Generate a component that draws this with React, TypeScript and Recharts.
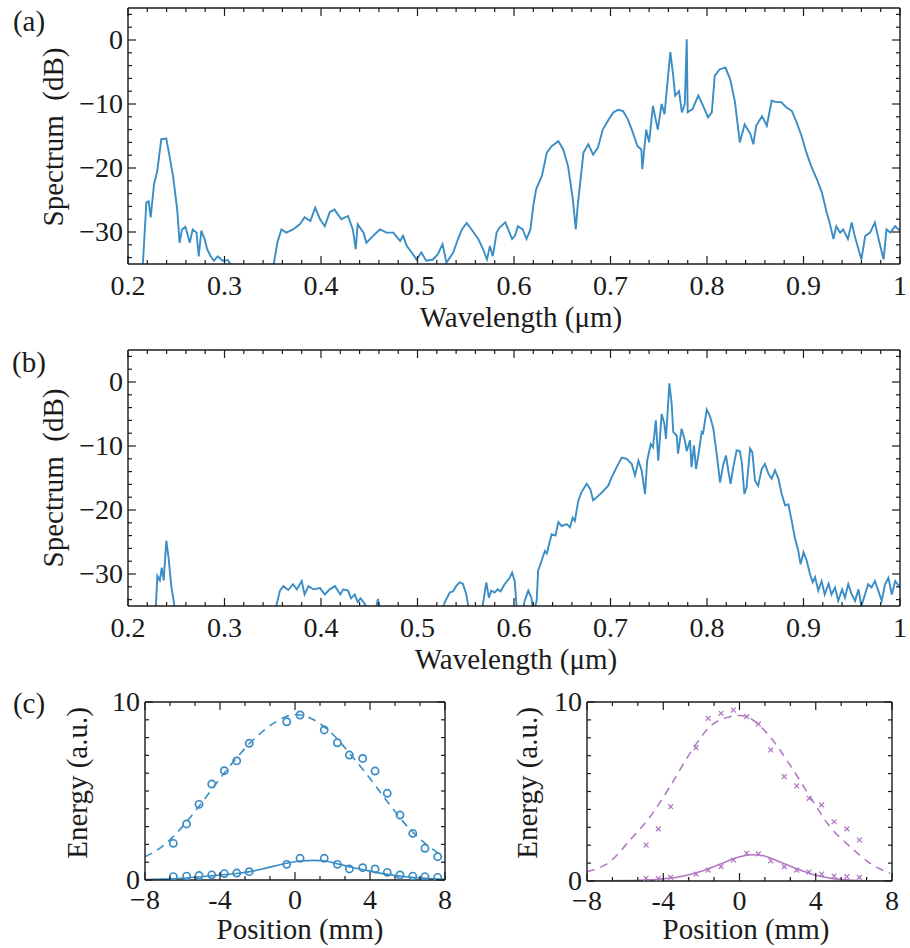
import { ComposedChart, Line, LineChart, Scatter, XAxis, YAxis } from "recharts";

const FONT = "Liberation Serif";
const INK = "#1b1b1b";
const BLUE = "#3a8dc5";
const PURPLE = "#b27ac4";

// (a) spectrum, wavelength in µm and level in dB (values below -35 are clipped)
const waveA = [
  0.213, 0.2155, 0.219, 0.2214, 0.2235, 0.227, 0.2303, 0.2345, 0.2397, 0.243, 0.2466, 0.251, 0.2535,
  0.256, 0.2594, 0.262, 0.264, 0.267, 0.271, 0.2733, 0.276, 0.2794, 0.282, 0.2857, 0.289, 0.293, 0.298,
  0.3036, 0.308, 0.312, 0.348, 0.351, 0.355, 0.359, 0.364, 0.371, 0.378, 0.383, 0.389, 0.394, 0.399,
  0.404, 0.409, 0.414, 0.421, 0.428, 0.433, 0.436, 0.438, 0.444, 0.447, 0.454, 0.461, 0.468, 0.475,
  0.482, 0.485, 0.489, 0.494, 0.499, 0.504, 0.509, 0.516, 0.521, 0.526, 0.53, 0.537, 0.542, 0.546,
  0.551, 0.556, 0.563, 0.568, 0.572, 0.575, 0.578, 0.582, 0.585, 0.591, 0.594, 0.598, 0.601, 0.604,
  0.609, 0.613, 0.617, 0.62, 0.623, 0.629, 0.634, 0.639, 0.646, 0.651, 0.656, 0.661, 0.664, 0.666,
  0.672, 0.677, 0.682, 0.687, 0.692, 0.697, 0.703, 0.708, 0.713, 0.718, 0.723, 0.728, 0.732, 0.733,
  0.737, 0.74, 0.744, 0.749, 0.753, 0.756, 0.762, 0.765, 0.767, 0.771, 0.774, 0.777, 0.779, 0.78,
  0.785, 0.791, 0.796, 0.801, 0.805, 0.808, 0.813, 0.819, 0.824, 0.829, 0.834, 0.839, 0.845, 0.848,
  0.851, 0.857, 0.862, 0.867, 0.872, 0.877, 0.882, 0.888, 0.893, 0.898, 0.903, 0.908, 0.914, 0.919,
  0.924, 0.927, 0.931, 0.934, 0.938, 0.941, 0.946, 0.95, 0.953, 0.957, 0.96, 0.964, 0.969, 0.974,
  0.977, 0.983, 0.986, 0.99, 0.995, 1.0,
];
const specA = [
  -40, -34.8, -25.4, -25.2, -27.7, -22.5, -20.5, -15.5, -15.4, -18.1, -21.2, -26.5, -31.7,
  -29.6, -29.2, -30.5, -31.7, -29.6, -30.1, -33.8, -29.8, -31.1, -32.7, -33.8, -34.5, -33.8, -34.5,
  -34.4, -35.5, -40, -40, -35, -31.5, -29.6, -30.1, -29.6, -28.8, -27.7, -28.3, -26.2, -28.0,
  -29.1, -26.9, -26.5, -28.0, -27.5, -29.6, -32.7, -28.8, -30.1, -31.7, -30.6, -29.6, -30.1, -30.1,
  -31.4, -30.6, -32.2, -33.2, -34.3, -33.2, -34.5, -34.3, -33.5, -31.9, -34.8, -33.2, -31.1, -29.6,
  -28.6, -29.6, -31.1, -32.7, -34.3, -32.2, -33.8, -30.1, -29.3, -28.5, -29.6, -31.1, -30.6, -29.1,
  -29.6, -31.1, -29.6, -25.9, -23.3, -21.2, -17.6, -16.6, -15.8, -17.1, -19.7, -24.9, -29.6, -25.9,
  -17.6, -16.3, -17.9, -16.8, -14.0, -12.7, -11.3, -10.9, -11.1, -12.4, -14.4, -16.6, -17.1, -20.2,
  -14.0, -16.0, -10.3, -14.0, -10.0, -11.6, -1.9, -5.6, -8.7, -8.0, -11.3, -10.0, 0.1, -11.3,
  -10.8, -8.7, -10.3, -12.1, -11.3, -5.6, -4.6, -4.3, -6.1, -9.7, -16.0, -13.2, -14.7, -16.3,
  -13.4, -11.9, -13.4, -9.5, -9.7, -9.7, -10.5, -11.1, -12.9, -15.0, -17.6, -19.7, -21.8, -23.8,
  -26.9, -28.5, -31.1, -29.1, -30.1, -29.6, -31.1, -28.5, -30.6, -32.7, -34.3, -30.6, -30.1, -28.5,
  -30.6, -34.3, -29.6, -30.1, -29.1, -29.8,
];

// (b) spectrum
const waveB = [
  0.227, 0.229, 0.2304, 0.233, 0.235, 0.237, 0.2397, 0.242, 0.245, 0.2477, 0.25, 0.35, 0.3534,
  0.3575, 0.361, 0.366, 0.371, 0.375, 0.38, 0.383, 0.387, 0.392, 0.399, 0.404, 0.409, 0.4145, 0.42,
  0.423, 0.428, 0.431, 0.435, 0.438, 0.441, 0.4456, 0.448, 0.456, 0.459, 0.461, 0.462, 0.522, 0.526,
  0.528, 0.5334, 0.537, 0.54, 0.5437, 0.547, 0.5506, 0.5523, 0.555, 0.565, 0.568, 0.5713, 0.574,
  0.5765, 0.58, 0.583, 0.586, 0.5903, 0.5955, 0.598, 0.6007, 0.6024, 0.604, 0.608, 0.611, 0.6148,
  0.618, 0.62, 0.6235, 0.625, 0.6287, 0.632, 0.634, 0.6373, 0.639, 0.643, 0.646, 0.6494, 0.6546,
  0.658, 0.6608, 0.663, 0.6667, 0.67, 0.6753, 0.679, 0.682, 0.6874, 0.6926, 0.6977, 0.7012, 0.7064,
  0.7116, 0.7168, 0.722, 0.7254, 0.729, 0.7322, 0.7358, 0.738, 0.7417, 0.744, 0.747, 0.7495, 0.753,
  0.7558, 0.7575, 0.761, 0.7634, 0.765, 0.7686, 0.77, 0.7737, 0.777, 0.779, 0.7824, 0.784, 0.7865,
  0.7886, 0.791, 0.7945, 0.796, 0.7997, 0.803, 0.8066, 0.81, 0.8135, 0.817, 0.8197, 0.822, 0.8245,
  0.827, 0.8307, 0.834, 0.836, 0.8387, 0.841, 0.8446, 0.847, 0.8497, 0.853, 0.8567, 0.86, 0.8638,
  0.867, 0.8705, 0.874, 0.8774, 0.881, 0.8843, 0.8878, 0.891, 0.8946, 0.897, 0.9, 0.9033, 0.9067,
  0.9095, 0.912, 0.9153, 0.9188, 0.922, 0.926, 0.929, 0.9327, 0.936, 0.94, 0.943, 0.9464, 0.95,
  0.9534, 0.957, 0.96, 0.9637, 0.967, 0.9705, 0.974, 0.9775, 0.981, 0.9845, 0.988, 0.9915, 0.995, 1.0,
];
const specB = [
  -40, -34.7, -30.3, -31.0, -29.0, -31.0, -24.8, -27.4, -32.1, -34.5, -40, -40, -35.1,
  -32.6, -31.9, -32.5, -31.6, -32.4, -31.1, -33.2, -31.9, -32.4, -32.2, -33.2, -32.4, -31.9, -33.2,
  -32.4, -32.6, -33.8, -33.2, -34.4, -33.8, -34.7, -36, -36, -33.9, -36, -40, -40, -35.5,
  -34.5, -32.9, -32.7, -31.9, -31.3, -31.5, -33.2, -34.7, -37, -37, -34.5, -31.3, -33.7,
  -32.6, -32.9, -32.4, -32.7, -31.6, -30.6, -29.8, -31.1, -34.5, -37, -37, -34.2, -32.6,
  -33.7, -36, -34.2, -29.5, -27.9, -26.4, -26.8, -24.8, -23.8, -24.0, -21.9, -22.5, -22.2,
  -22.7, -21.2, -21.7, -18.5, -17.2, -15.9, -16.7, -18.5, -17.8, -17.0, -16.2, -14.9, -13.3,
  -11.8, -12.0, -12.8, -14.6, -12.3, -13.8, -17.5, -12.3, -9.7, -10.2, -6.0, -12.3, -5.0,
  -6.5, -8.9, -0.2, -3.4, -7.8, -8.4, -11.2, -7.3, -9.1, -10.8, -9.1, -13.3, -9.9,
  -13.6, -11.5, -7.8, -8.0, -4.3, -5.3, -7.3, -11.2, -15.7, -12.8, -11.5, -13.8, -15.9,
  -13.5, -10.7, -10.8, -12.5, -17.5, -16.5, -10.4, -11.0, -15.4, -16.2, -13.6, -12.8, -14.4,
  -15.1, -13.8, -15.1, -17.5, -19.3, -19.1, -21.7, -24.3, -26.4, -28.5, -26.6, -27.9, -30.0,
  -31.3, -30.5, -32.6, -31.1, -33.2, -31.5, -33.2, -32.1, -34.2, -32.4, -33.7, -31.6, -33.2,
  -34.2, -32.4, -35.0, -33.2, -31.6, -32.1, -31.1, -32.6, -34.2, -31.6, -30.6, -33.2, -31.1, -32.1,
];

// (c) left: measured energy (circles) and fits
const posCircle = [
  -6.49, -5.78, -5.12, -4.44, -3.77, -3.11, -2.44, -0.44, 0.27, 1.56, 2.26, 2.9, 3.61, 4.27, 4.92,
  5.6, 6.28, 6.93, 7.61,
];
const circleHigh = [
  2.06, 3.15, 4.25, 5.39, 6.14, 6.69, 7.68, 8.89, 9.27, 8.43, 7.71, 7.02, 6.83, 6.12, 4.87, 3.65,
  2.62, 1.78, 1.31,
];
const circleLow = [
  0.19, 0.22, 0.25, 0.29, 0.36, 0.39, 0.47, 0.88, 1.22, 1.22, 0.88, 0.62, 0.69, 0.62, 0.43, 0.28,
  0.22, 0.19, 0.15,
];
const fitPosHighL = [-8, -7, -6, -5, -4, -3, -2, -1, 0, 1, 2, 3, 4, 5, 6, 7, 7.8];
const fitHighL = [1.3, 1.95, 3.0, 4.3, 5.7, 7.0, 8.1, 8.9, 9.3, 9.0, 8.2, 7.0, 5.7, 4.3, 3.0, 2.0, 1.4];
const fitPosLowL = [-8, -7, -6, -5, -4, -3, -2.4, -1.5, -0.5, 0.3, 1.0, 1.6, 2.3, 3, 4, 5, 6, 7, 8];
const fitLowL = [0.02, 0.05, 0.1, 0.18, 0.28, 0.38, 0.47, 0.68, 0.93, 1.07, 1.1, 1.07, 0.9, 0.72, 0.5, 0.3, 0.17, 0.09, 0.04];

// (c) right: measured energy (crosses) and fits
const posCross = [
  -4.9, -4.26, -3.61, -2.28, -1.64, -0.97, -0.32, 0.38, 0.99, 1.64, 2.35, 3.0, 3.65, 4.31, 4.96,
  5.63, 6.29,
];
const crossHigh = [
  2.01, 2.91, 4.15, 7.45, 9.09, 9.37, 9.55, 9.18, 8.77, 7.32, 5.83, 5.31, 4.62, 4.25, 3.31, 2.91, 2.29,
];
const crossLow = [
  0.15, 0.15, 0.2, 0.39, 0.61, 0.8, 1.17, 1.55, 1.51, 1.13, 0.8, 0.61, 0.5, 0.39, 0.28, 0.24, 0.2,
];
const fitPosHighR = [-8, -6.8, -5.74, -4.69, -3.65, -2.6, -1.55, -0.5, 0, 0.55, 1.6, 2.65, 3.7, 4.75, 5.8, 6.85, 7.9];
const fitHighR = [0.52, 1.08, 2.29, 3.59, 5.27, 7.13, 8.62, 9.18, 9.25, 9.09, 8.06, 6.48, 4.71, 3.03, 1.92, 0.99, 0.43];
const fitPosLowR = [-8, -6, -5, -4, -3, -2, -1, 0, 0.6, 1.2, 2, 3, 4, 5, 6, 7, 8];
const fitLowR = [0.0, 0.02, 0.05, 0.12, 0.27, 0.55, 0.95, 1.35, 1.47, 1.42, 1.12, 0.68, 0.32, 0.12, 0.04, 0.01, 0.0];

// tick values
const steps = (from: number, to: number, n: number) =>
  Array.from({ length: n + 1 }, (_, i) => from + ((to - from) * i) / n);
const waveTicks = steps(0.2, 1.0, 40);
const waveMajors = [0.2, 0.3, 0.4, 0.5, 0.6, 0.7, 0.8, 0.9, 1.0];
const waveLabels = ["0.2", "0.3", "0.4", "0.5", "0.6", "0.7", "0.8", "0.9", "1"];
const dbTicks = steps(-34, 4, 19);
const dbMajors = [-30, -20, -10, 0];
const dbLabels = ["\u221230", "\u221220", "\u221210", "0"];
const posTicks = steps(-8, 8, 12);
const posMajors = [-8, -4, 0, 4, 8];
const posLabels = ["\u22128", "-4", "0", "4", "8"];
const energyTicks = steps(0, 10, 10);
const energyMajors = [0, 10];
const energyLabels = ["0", "10"];

const zipSpec = (w: number[], s: number[]) => w.map((x, i) => ({ w: x, s: s[i] }));
const zipPos = (p: number[], e: number[]) => p.map((x, i) => ({ p: x, e: e[i] }));

type Side = "bottom" | "top" | "left" | "right";

const tickStyle = { fontFamily: FONT, fontSize: 28, fill: INK };

const makeTick =
  (side: Side, majors: number[], labels: string[] | null, gap = 31) =>
  (props: any) => {
    const { x, y, payload } = props;
    const v = Number(payload.value);
    const idx = majors.findIndex((m) => Math.abs(m - v) < 1e-6);
    const len = idx >= 0 ? 8 : 4;
    let line = null;
    let label = null;
    const txt = labels && idx >= 0 ? labels[idx] : null;
    if (side === "bottom") {
      line = <line x1={x} y1={y} x2={x} y2={y - len} />;
      if (txt)
        label = (
          <text x={x} y={y + gap} textAnchor="middle" fontFamily={FONT} style={tickStyle}>
            {txt}
          </text>
        );
    } else if (side === "top") {
      line = <line x1={x} y1={y} x2={x} y2={y + len} />;
    } else if (side === "left") {
      line = <line x1={x} y1={y} x2={x + len} y2={y} />;
      if (txt)
        label = (
          <text x={x - 5} y={y + 9} textAnchor="end" fontFamily={FONT} style={tickStyle}>
            {txt}
          </text>
        );
    } else {
      line = <line x1={x} y1={y} x2={x - len} y2={y} />;
    }
    return (
      <g>
        <g stroke={INK} strokeWidth={1.2}>{line}</g>
        {label}
      </g>
    );
  };

const frame = { stroke: INK, strokeWidth: 1.4 };

type SpecProps = { wave: number[]; spec: number[]; top: number; mTop: number; mBottom: number };

const SpectrumPanel = ({ wave, spec, top, mTop, mBottom }: SpecProps) => (
  <div style={{ position: "absolute", left: 0, top, width: 910, height: 320 }}>
    <LineChart
      width={910}
      height={320}
      data={zipSpec(wave, spec)}
      margin={{ top: mTop, right: 9, bottom: mBottom, left: 127 }}
    >
      <XAxis
        xAxisId="b"
        dataKey="w"
        type="number"
        domain={[0.2, 1]}
        allowDataOverflow
        ticks={waveTicks}
        interval={0}
        height={1}
        tickSize={0}
        tickMargin={0}
        tickLine={false}
        axisLine={frame}
        tick={makeTick("bottom", waveMajors, waveLabels)}
      />
      <XAxis
        xAxisId="t"
        orientation="top"
        dataKey="w"
        type="number"
        domain={[0.2, 1]}
        allowDataOverflow
        ticks={waveTicks}
        interval={0}
        height={1}
        tickSize={0}
        tickMargin={0}
        tickLine={false}
        axisLine={frame}
        tick={makeTick("top", waveMajors, null)}
      />
      <YAxis
        yAxisId="l"
        type="number"
        domain={[-35, 5]}
        allowDataOverflow
        ticks={dbTicks}
        interval={0}
        width={1}
        tickSize={0}
        tickMargin={0}
        tickLine={false}
        axisLine={frame}
        tick={makeTick("left", dbMajors, dbLabels)}
      />
      <YAxis
        yAxisId="r"
        orientation="right"
        type="number"
        domain={[-35, 5]}
        allowDataOverflow
        ticks={dbTicks}
        interval={0}
        width={1}
        tickSize={0}
        tickMargin={0}
        tickLine={false}
        axisLine={frame}
        tick={makeTick("right", dbMajors, null)}
      />
      <Line
        xAxisId="b"
        yAxisId="l"
        type="linear"
        dataKey="s"
        stroke={BLUE}
        strokeWidth={1.9}
        dot={false}
        activeDot={false}
        isAnimationActive={false}
      />
    </LineChart>
  </div>
);

const circleShape = (p: any) => (
  <circle cx={p.cx} cy={p.cy} r={3.6} fill="none" stroke={BLUE} strokeWidth={1.7} />
);
const crossShape = (p: any) => (
  <path
    d={`M${p.cx - 2.4},${p.cy - 2.4}L${p.cx + 2.4},${p.cy + 2.4}M${p.cx - 2.4},${p.cy + 2.4}L${p.cx + 2.4},${p.cy - 2.4}`}
    stroke={PURPLE}
    strokeWidth={1.3}
  />
);

type EnergyProps = {
  left: number;
  margin: { top: number; right: number; bottom: number; left: number };
  color: string;
  high: { p: number; e: number }[];
  low: { p: number; e: number }[];
  fitHigh: { p: number; e: number }[];
  fitLow: { p: number; e: number }[];
  shape: (p: any) => JSX.Element;
};

const EnergyPanel = ({ left, margin, color, high, low, fitHigh, fitLow, shape }: EnergyProps) => (
  <div style={{ position: "absolute", left, top: 660, width: 455, height: 260 }}>
    <ComposedChart width={455} height={260} margin={margin}>
      <XAxis
        xAxisId="b"
        dataKey="p"
        type="number"
        domain={[-8, 8]}
        allowDataOverflow
        ticks={posTicks}
        interval={0}
        height={1}
        tickSize={0}
        tickMargin={0}
        tickLine={false}
        axisLine={frame}
        tick={makeTick("bottom", posMajors, posLabels, 29)}
      />
      <XAxis
        xAxisId="t"
        orientation="top"
        dataKey="p"
        type="number"
        domain={[-8, 8]}
        allowDataOverflow
        ticks={posTicks}
        interval={0}
        height={1}
        tickSize={0}
        tickMargin={0}
        tickLine={false}
        axisLine={frame}
        tick={makeTick("top", posMajors, null)}
      />
      <YAxis
        yAxisId="l"
        type="number"
        domain={[0, 10]}
        allowDataOverflow
        ticks={energyTicks}
        interval={0}
        width={1}
        tickSize={0}
        tickMargin={0}
        tickLine={false}
        axisLine={frame}
        tick={makeTick("left", energyMajors, energyLabels)}
      />
      <YAxis
        yAxisId="r"
        orientation="right"
        type="number"
        domain={[0, 10]}
        allowDataOverflow
        ticks={energyTicks}
        interval={0}
        width={1}
        tickSize={0}
        tickMargin={0}
        tickLine={false}
        axisLine={frame}
        tick={makeTick("right", energyMajors, null)}
      />
      <Line
        xAxisId="b"
        yAxisId="l"
        data={fitHigh}
        type="monotone"
        dataKey="e"
        stroke={color}
        strokeWidth={1.6}
        strokeDasharray="8 6"
        dot={false}
        activeDot={false}
        isAnimationActive={false}
      />
      <Line
        xAxisId="b"
        yAxisId="l"
        data={fitLow}
        type="monotone"
        dataKey="e"
        stroke={color}
        strokeWidth={1.6}
        dot={false}
        activeDot={false}
        isAnimationActive={false}
      />
      <Scatter xAxisId="b" yAxisId="l" data={high} dataKey="e" shape={shape} isAnimationActive={false} />
      <Scatter xAxisId="b" yAxisId="l" data={low} dataKey="e" shape={shape} isAnimationActive={false} />
    </ComposedChart>
  </div>
);

// HTML caption: (cx, cy) is the centre of the text box
const Caption = ({ cx, cy, rotate = false, children }: { cx: number; cy: number; rotate?: boolean; children: string }) => (
  <div
    style={{
      position: "absolute",
      left: cx,
      top: cy,
      transform: `translate(-50%, -50%)${rotate ? " rotate(-90deg)" : ""}`,
      fontFamily: FONT,
      fontSize: 29,
      lineHeight: "29px",
      color: INK,
      whiteSpace: "pre",
    }}
  >
    {children}
  </div>
);

export default function App() {
  return (
    <div style={{ position: "absolute", left: 0, top: 0, width: 910, height: 948, background: "#fff", fontFamily: FONT }}>
      <SpectrumPanel wave={waveA} spec={specA} top={0} mTop={7} mBottom={55} />
      <SpectrumPanel wave={waveB} spec={specB} top={330} mTop={19} mBottom={43} />
      <EnergyPanel
        left={0}
        margin={{ top: 41, right: 9, bottom: 39, left: 144 }}
        color={BLUE}
        high={zipPos(posCircle, circleHigh)}
        low={zipPos(posCircle, circleLow)}
        fitHigh={zipPos(fitPosHighL, fitHighL)}
        fitLow={zipPos(fitPosLowL, fitLowL)}
        shape={circleShape}
      />
      <EnergyPanel
        left={455}
        margin={{ top: 41, right: 17, bottom: 38, left: 131 }}
        color={PURPLE}
        high={zipPos(posCross, crossHigh)}
        low={zipPos(posCross, crossLow)}
        fitHigh={zipPos(fitPosHighR, fitHighR)}
        fitLow={zipPos(fitPosLowR, fitLowR)}
        shape={crossShape}
      />
      <Caption cx={29} cy={21}>(a)</Caption>
      <Caption cx={53} cy={137} rotate>{"Spectrum  (dB)"}</Caption>
      <Caption cx={521} cy={317}>Wavelength (μm)</Caption>
      <Caption cx={29} cy={362}>(b)</Caption>
      <Caption cx={53} cy={478} rotate>{"Spectrum  (dB)"}</Caption>
      <Caption cx={516} cy={659}>Wavelength (μm)</Caption>
      <Caption cx={29} cy={703}>(c)</Caption>
      <Caption cx={77} cy={783} rotate>Energy (a.u.)</Caption>
      <Caption cx={300} cy={929}>Position (mm)</Caption>
      <Caption cx={527} cy={783} rotate>Energy (a.u.)</Caption>
      <Caption cx={746} cy={929}>Position (mm)</Caption>
    </div>
  );
}
